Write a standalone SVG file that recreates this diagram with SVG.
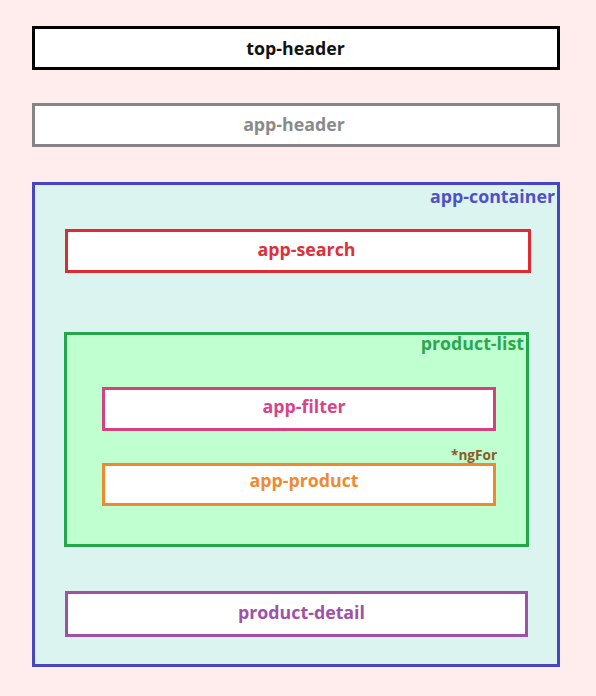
<svg xmlns="http://www.w3.org/2000/svg" width="596" height="696" viewBox="0 0 596 696">
<style>
text{font-family:"Open Sans","Liberation Sans",sans-serif;font-weight:bold;font-size:17.8px}
.c{text-anchor:middle}
.r{text-anchor:end}
rect{stroke-width:3}
.box{fill:#ffffff}
</style>
<rect x="0" y="0" width="596" height="696" fill="#ffecec" stroke="none"/>
<g id="top-header">
<rect class="box" x="33.5" y="27.5" width="525" height="41" stroke="#000000"/>
<text class="c" x="295.5" y="55" fill="#111111">top-header</text>
</g>
<g id="app-header">
<rect class="box" x="33.5" y="104.5" width="525" height="41" stroke="#858585"/>
<text class="c" x="294" y="131" fill="#8a8a8a">app-header</text>
</g>
<g id="app-container">
<rect x="33.5" y="183.5" width="525" height="482" fill="#dcf4f0" stroke="#4646c4"/>
<text class="r" x="555" y="203" fill="#5050c8">app-container</text>
</g>
<g id="app-search">
<rect class="box" x="66.5" y="230.5" width="463" height="41" stroke="#dd2a33"/>
<text class="c" x="306.5" y="256" fill="#dd3038">app-search</text>
</g>
<g id="product-list">
<rect x="65.5" y="333.5" width="462" height="212" fill="#bfffd0" stroke="#22a84a"/>
<text class="r" x="524" y="350" fill="#2aa850">product-list</text>
</g>
<g id="app-filter">
<rect class="box" x="103.5" y="388.5" width="391" height="41" stroke="#d63f80"/>
<text class="c" x="304" y="413" fill="#d84488">app-filter</text>
<text x="451" y="460" fill="#8b5a2b" style="font-size:13.6px">*ngFor</text>
</g>
<g id="app-product">
<rect class="box" x="103.5" y="464.5" width="391" height="40" stroke="#f0882e"/>
<text class="c" x="304" y="487" fill="#f08a30">app-product</text>
</g>
<g id="product-detail">
<rect class="box" x="66.5" y="592.5" width="460" height="43" stroke="#a050a8"/>
<text class="c" x="301.5" y="619" fill="#a050a8">product-detail</text>
</g>
<g id="connectors"></g>
</svg>
